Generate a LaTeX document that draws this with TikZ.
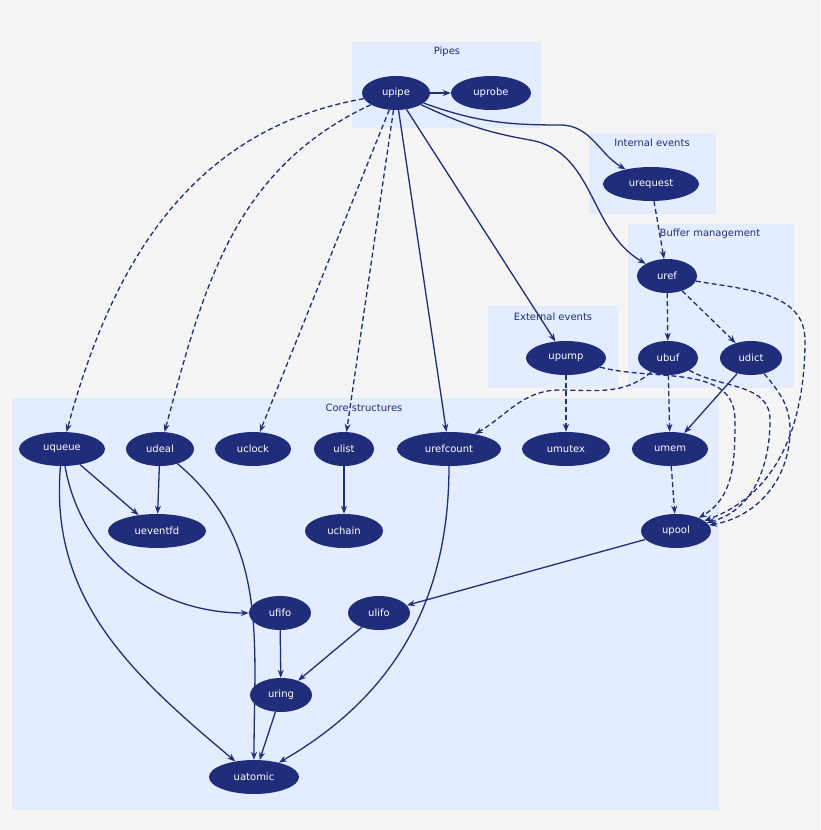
\documentclass[tikz,border=0pt]{standalone}
\usepackage{fontspec}
\setmainfont{DejaVu Sans}
\usetikzlibrary{arrows.meta,shapes.geometric}
\definecolor{navy}{HTML}{1F2D7A}
\definecolor{clus}{HTML}{E3EDFF}
\definecolor{bg}{HTML}{F5F5F5}
\begin{document}
\begin{tikzpicture}[x=1pt,y=-1pt,
  n/.style={ellipse,fill=navy,text=white,font=\fontsize{10}{12}\selectfont,inner sep=0pt,minimum height=34pt},
  cl/.style={fill=clus},
  cll/.style={text=navy,font=\fontsize{10}{12}\selectfont},
  e/.style={draw=navy,line width=1.3pt,-{Stealth[length=8pt,width=6pt]}},
  d/.style={e,dashed,dash pattern=on 5pt off 3pt}]
\fill[bg] (0,0) rectangle (820,830);
\fill[cl] (352,42) rectangle (541,128);
\node[cll] (lp) at (447,52) {Pipes};
\fill[cl] (589,133) rectangle (716,214);
\node[cll] (li) at (652,143) {Internal events};
\fill[cl] (628,224) rectangle (794,388);
\node[cll] (lb) at (710,234) {Buffer management};
\fill[cl] (488,306) rectangle (618,388);
\node[cll] (le) at (553,317) {External events};
\fill[cl] (12,398) rectangle (719,810);
\node[cll] (lc) at (364,408) {Core structures};

\node[n,minimum width=68pt] (upipe) at (396,93) {upipe};
\node[n,minimum width=80pt] (uprobe) at (491,93) {uprobe};
\node[n,minimum width=96pt] (urequest) at (651,184) {urequest};
\node[n,minimum width=60pt] (uref) at (667,276) {uref};
\node[n,minimum width=80pt] (upump) at (566,358) {upump};
\node[n,minimum width=60pt] (ubuf) at (668,358) {ubuf};
\node[n,minimum width=62pt] (udict) at (751,358) {udict};
\node[n,minimum width=86pt] (uqueue) at (62,449) {uqueue};
\node[n,minimum width=68pt] (udeal) at (160,449) {udeal};
\node[n,minimum width=76pt] (uclock) at (253,449) {uclock};
\node[n,minimum width=60pt] (ulist) at (344,449) {ulist};
\node[n,minimum width=104pt] (urefcount) at (449,449) {urefcount};
\node[n,minimum width=88pt] (umutex) at (566,449) {umutex};
\node[n,minimum width=76pt] (umem) at (670,449) {umem};
\node[n,minimum width=98pt] (ueventfd) at (157,531) {ueventfd};
\node[n,minimum width=78pt] (uchain) at (344,531) {uchain};
\node[n,minimum width=70pt] (upool) at (676,531) {upool};
\node[n,minimum width=62pt] (ufifo) at (280,613) {ufifo};
\node[n,minimum width=62pt] (ulifo) at (379,613) {ulifo};
\node[n,minimum width=62pt] (uring) at (281,695) {uring};
\node[n,minimum width=90pt] (uatomic) at (254,777) {uatomic};

\draw[e] (upipe) -- (uprobe);
\draw[e] (upipe) to[out=-20,in=180] (560,125) to[out=0,in=150] (urequest);
\draw[e] (upipe) to[out=-25,in=170] (530,140) to[out=-10,in=150] (uref);
\draw[e] (upipe) -- (upump);
\draw[e] (upipe) -- (urefcount);
\draw[d] (upipe) to[out=190,in=75] (uqueue);
\draw[d] (upipe) to[out=205,in=75] (udeal);
\draw[d] (upipe) -- (uclock);
\draw[d] (upipe) -- (ulist);
\draw[d] (urequest) -- (uref);
\draw[d] (uref) -- (ubuf);
\draw[d] (uref) -- (udict);
\draw[d] (uref) to[out=-10,in=90] (805,340) to[out=-90,in=20] (upool);
\draw[d] (ubuf) -- (umem);
\draw[d] (ubuf) to[out=-30,in=90] (770,420) to[out=-90,in=15] (upool);
\draw[d] (ubuf) to[out=-140,in=0] (560,390) to[out=180,in=30] (urefcount);
\draw[e] (udict) -- (umem);
\draw[d] (udict) to[out=-50,in=90] (790,430) to[out=-90,in=10] (upool);
\draw[d] (upump) -- (umutex);
\draw[d] (upump) to[out=-15,in=90] (735,420) to[out=-90,in=30] (upool);
\draw[d] (umem) -- (upool);
\draw[e] (upool) -- (ulifo);
\draw[e] (uqueue) -- (ueventfd);
\draw[e] (uqueue) to[out=-80,in=180] (ufifo);
\draw[e] (uqueue) to[out=-95,in=140] (uatomic);
\draw[e] (udeal) -- (ueventfd);
\draw[e] (udeal) to[out=-40,in=90] (uatomic);
\draw[e] (ulist) -- (uchain);
\draw[e] (urefcount) to[out=-90,in=30] (uatomic);
\draw[e] (ufifo) -- (uring);
\draw[e] (ulifo) -- (uring);
\draw[e] (uring) -- (uatomic);
\end{tikzpicture}
\end{document}
